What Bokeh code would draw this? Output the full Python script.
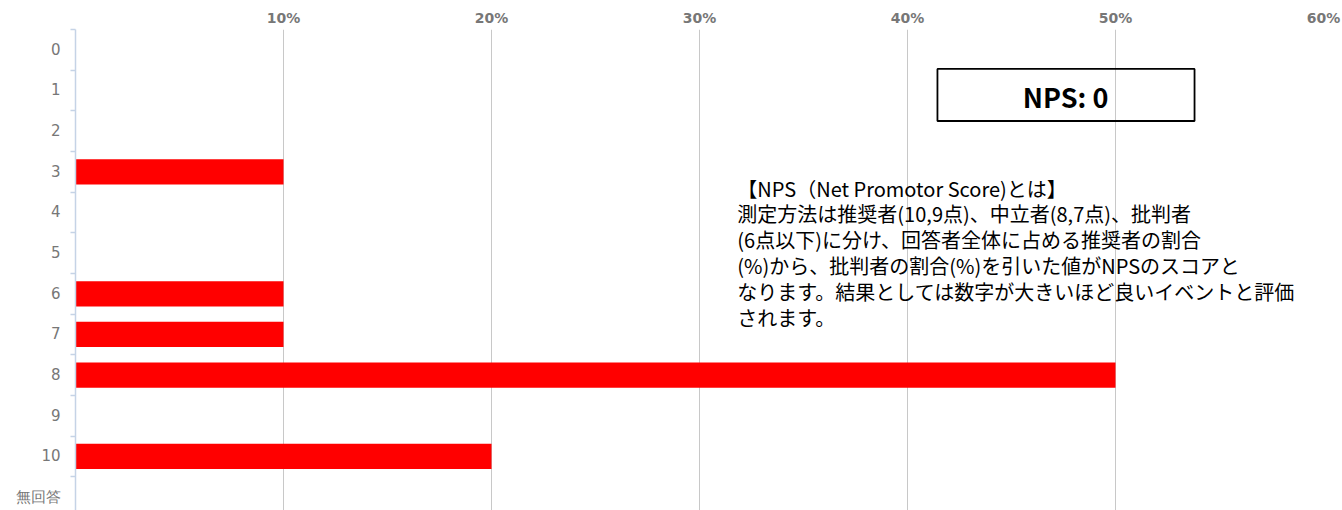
from bokeh.plotting import figure
from bokeh.models import Range1d, FixedTicker, LinearAxis, Label, BoxAnnotation, ColumnDataSource
from bokeh.embed import file_html
from bokeh.resources import INLINE

categories = ["0", "1", "2", "3", "4", "5", "6", "7", "8", "9", "10", "無回答"]
shares = [0.0, 0.0, 0.0, 0.10, 0.0, 0.0, 0.10, 0.10, 0.50, 0.0, 0.20, 0.0]
x_ticks = [0.1, 0.2, 0.3, 0.4, 0.5, 0.6]
x_tick_labels = ["10%", "20%", "30%", "40%", "50%", "60%"]
nps_text = "NPS: 0"
note_lines = [
    "【NPS（Net Promotor Score)とは】",
    "測定方法は推奨者(10,9点)、中立者(8,7点)、批判者",
    "(6点以下)に分け、回答者全体に占める推奨者の割合",
    "(%)から、批判者の割合(%)を引いた値がNPSのスコアと",
    "なります。結果としては数字が大きいほど良いイベントと評価",
    "されます。",
]

ypos = list(range(len(categories)))
src = ColumnDataSource(dict(y=ypos, right=shares, cat=categories))

p = figure(width=1342, height=510, output_backend="svg", toolbar_location=None,
           x_range=Range1d(0, 0.6), y_range=Range1d(11.33, -0.5),
           x_axis_location=None, y_axis_location=None,
           min_border_left=75, min_border_right=19, min_border_top=29, min_border_bottom=0)
p.outline_line_color = None
p.background_fill_color = "white"
p.border_fill_color = "white"

p.hbar(y="y", right="right", left=0, height=0.62, source=src,
       fill_color="#ff0000", line_color=None)

# top axis
xa = LinearAxis(ticker=FixedTicker(ticks=x_ticks, minor_ticks=[]))
xa.major_label_overrides = {t: l for t, l in zip(x_ticks, x_tick_labels)}
xa.axis_line_color = None
xa.major_tick_line_color = None
xa.minor_tick_line_color = None
xa.major_tick_out = 0
xa.major_tick_in = 0
xa.minor_tick_out = 0
xa.minor_tick_in = 0
xa.major_label_text_font = "DejaVu Sans"
xa.major_label_text_font_style = "bold"
xa.major_label_text_font_size = "14px"
xa.major_label_text_color = "#777777"
xa.major_label_standoff = 4
p.add_layout(xa, "above")

# left axis
boundaries = [i - 0.5 for i in range(len(categories) + 1)]
ya = LinearAxis(ticker=FixedTicker(ticks=ypos, minor_ticks=boundaries))
ya.major_label_overrides = {i: c for i, c in zip(ypos, categories)}
ya.axis_line_color = "#c5d3e6"
ya.axis_line_width = 1.5
ya.major_tick_line_color = None
ya.major_tick_out = 0
ya.major_tick_in = 0
ya.minor_tick_line_color = "#c5d3e6"
ya.minor_tick_line_width = 1.5
ya.minor_tick_out = 5
ya.minor_tick_in = 0
ya.major_label_text_font = "DejaVu Sans"
ya.major_label_text_font_size = "15px"
ya.major_label_text_color = "#777777"
ya.major_label_standoff = 10
p.add_layout(ya, "left")

p.xgrid.ticker = FixedTicker(ticks=x_ticks)
p.xgrid.grid_line_color = "#c8c8c8"
p.xgrid.grid_line_width = 1
p.ygrid.grid_line_color = None

# NPS box
box = BoxAnnotation(left=0.4144, right=0.538, top=0.47, bottom=1.75,
                    fill_color="white", fill_alpha=0.0, line_color="black",
                    line_alpha=1.0, line_width=1.8)
p.add_layout(box)
p.add_layout(Label(x=0.476, y=1.14, text=nps_text, text_align="center", text_baseline="middle",
                   text_font="Noto Sans CJK JP", text_font_style="bold", text_font_size="27px",
                   text_color="black"))

for i, line in enumerate(note_lines):
    p.add_layout(Label(x=0.3182, y=3.40 + i * 0.635, text=line, text_align="left",
                       text_baseline="middle", text_font="Noto Sans CJK JP",
                       text_font_size="20px", text_color="black"))

open("out.html", "w").write(file_html(p, INLINE))
